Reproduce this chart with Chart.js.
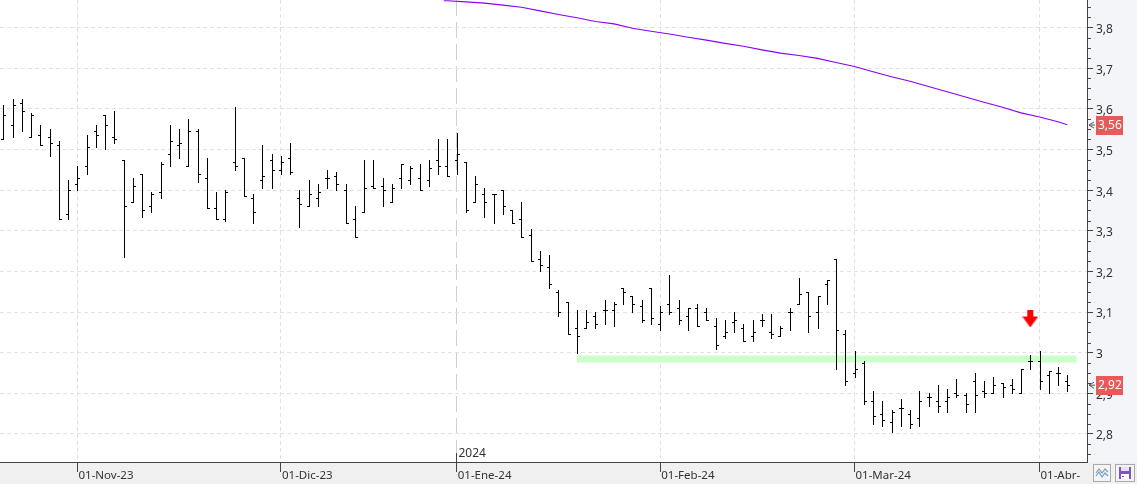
<!DOCTYPE html>
<html>
<head>
<meta charset="utf-8">
<title>Chart</title>
<script src="https://cdn.jsdelivr.net/npm/chart.js@4/dist/chart.umd.min.js"></script>
<style>
  html, body { margin: 0; padding: 0; background: #f0f0f0; overflow: hidden; }
  #wrap { position: relative; width: 1137px; height: 484px; }
  #myChart { position: absolute; left: 0; top: 0; }
  svg.btn { position: absolute; top: 464px; }
</style>
</head>
<body>
<div id="wrap">
  <canvas id="myChart" width="1137" height="484"></canvas>
  <svg class="btn" style="left:1093px" width="18" height="18" viewBox="0 0 18 18">
    <rect x="0.5" y="0.5" width="17" height="17" fill="#f4f4f4" stroke="#aaa"/>
    <polyline points="3,9 6,5 9,9 12,5 15,8" fill="none" stroke="#999" stroke-width="1.2"/>
    <polyline points="3,12 6,8 9,13 12,9 15,12" fill="none" stroke="#5aa5e0" stroke-width="1.2"/>
  </svg>
  <svg class="btn" style="left:1115px" width="20" height="18" viewBox="0 0 20 18">
    <rect x="0.5" y="0.5" width="19" height="17" fill="#f4f4f4" stroke="#aaa"/>
    <rect x="4" y="3" width="12" height="12" fill="#7d55c0"/>
    <rect x="6" y="3" width="8" height="4" fill="#e8e0f5"/>
    <rect x="6" y="10" width="8" height="5" fill="#ffffff"/>
    <rect x="7" y="12" width="2" height="1" fill="#7d55c0"/>
  </svg>
</div>
<script>
/****************** data ******************/
// bar 0 is 01-Nov-23, there are 8 bars before it
const firstBar = -8;
const opens = [
  3.525,3.56,3.615,3.53,3.535,3.53,3.51,3.34,
  3.415,3.46,3.545,3.585,3.53,3.475,3.37,3.44,3.36,3.395,
  3.49,3.51,3.46,3.545,3.43,3.355,3.33,3.47,3.48,3.38,
  3.425,3.475,3.45,3.48,3.38,3.36,3.38,3.43,3.435,3.4,
  3.33,3.345,3.41,3.41,3.37,3.43,3.425,3.43,3.425,3.475,
  3.46,3.475,3.47,3.37,3.39,3.39,3.4,3.35,3.33,3.29,
  3.23,3.21,3.15,3.125,3.06,3.06,3.09,3.105,3.105,3.16,
  3.14,3.115,3.16,3.07,3.12,3.11,3.09,3.11,3.1,3.065,
  3.04,3.075,3.06,3.04,3.08,3.05,3.04,3.1,3.12,3.15,
  3.1,3.17,3.23,3.045,2.95,2.975,2.88,2.85,2.83,2.865,
  2.85,2.84,2.89,2.88,2.88,2.9,2.895,2.93,2.905,2.9,
  2.925,2.92,2.9,2.98,2.98,2.945,2.95,2.93
];
const highs = [
  3.61,3.625,3.625,3.59,3.56,3.55,3.52,3.425,
  3.46,3.535,3.56,3.585,3.595,3.475,3.43,3.44,3.395,3.47,
  3.56,3.55,3.575,3.55,3.48,3.395,3.4,3.605,3.48,3.39,
  3.51,3.49,3.485,3.515,3.4,3.425,3.415,3.45,3.445,3.415,
  3.36,3.475,3.475,3.43,3.415,3.465,3.46,3.465,3.475,3.525,
  3.525,3.54,3.47,3.435,3.405,3.39,3.4,3.35,3.37,3.305,
  3.25,3.24,3.155,3.125,3.105,3.105,3.1,3.13,3.125,3.16,
  3.14,3.13,3.16,3.115,3.19,3.13,3.11,3.12,3.11,3.085,
  3.08,3.1,3.07,3.08,3.095,3.095,3.065,3.11,3.185,3.15,
  3.14,3.18,3.23,3.055,3.005,2.98,2.905,2.88,2.86,2.885,
  2.86,2.905,2.9,2.92,2.91,2.935,2.9,2.95,2.93,2.94,
  2.925,2.935,2.96,2.995,3.005,2.955,2.965,2.945
];
const lows = [
  3.525,3.53,3.545,3.53,3.51,3.485,3.33,3.33,
  3.4,3.44,3.505,3.5,3.515,3.235,3.37,3.335,3.345,3.38,
  3.46,3.48,3.46,3.42,3.355,3.33,3.325,3.45,3.385,3.32,
  3.405,3.405,3.44,3.44,3.31,3.36,3.36,3.405,3.4,3.32,
  3.285,3.345,3.405,3.36,3.37,3.405,3.415,3.4,3.41,3.44,
  3.435,3.44,3.345,3.37,3.335,3.32,3.34,3.32,3.285,3.225,
  3.2,3.16,3.09,3.045,3.0,3.06,3.06,3.07,3.065,3.12,
  3.1,3.075,3.07,3.055,3.095,3.07,3.055,3.065,3.08,3.01,
  3.035,3.05,3.03,3.03,3.065,3.035,3.04,3.055,3.12,3.05,
  3.06,3.12,2.96,2.92,2.94,2.875,2.825,2.82,2.805,2.82,
  2.815,2.82,2.87,2.855,2.855,2.89,2.855,2.855,2.89,2.9,
  2.89,2.9,2.9,2.96,2.91,2.9,2.92,2.905
];
const closes = [
  3.585,3.61,3.595,3.585,3.51,3.515,3.33,3.4,
  3.43,3.505,3.535,3.56,3.525,3.36,3.41,3.35,3.39,3.465,
  3.52,3.515,3.545,3.44,3.355,3.33,3.395,3.46,3.385,3.345,
  3.435,3.45,3.47,3.445,3.365,3.39,3.395,3.43,3.415,3.32,
  3.285,3.405,3.405,3.4,3.405,3.465,3.455,3.4,3.455,3.46,
  3.435,3.49,3.35,3.415,3.37,3.39,3.36,3.32,3.285,3.225,
  3.215,3.17,3.1,3.045,3.04,3.075,3.07,3.105,3.12,3.15,
  3.12,3.08,3.085,3.1,3.1,3.08,3.11,3.065,3.08,3.02,
  3.05,3.08,3.03,3.05,3.08,3.045,3.06,3.1,3.145,3.09,
  3.14,3.18,3.055,2.93,2.96,2.88,2.845,2.835,2.855,2.865,
  2.825,2.88,2.89,2.87,2.89,2.895,2.875,2.895,2.9,2.92,
  2.915,2.91,2.96,2.98,2.93,2.955,2.95,2.92
];

// purple moving average
const maIndex = [39.6,40,42,44,46,48,50,52,54,56,58,60,62,64,66,68,70,72,74,76,78,80,82,84,86,88,90,92,94,96,98,100,102,104,106,107];
const maValues = [3.866,3.866,3.863,3.86,3.855,3.85,3.841,3.832,3.824,3.815,3.809,3.798,3.791,3.784,3.776,3.769,3.761,3.754,3.745,3.737,3.731,3.724,3.714,3.704,3.691,3.679,3.668,3.655,3.642,3.629,3.616,3.604,3.59,3.58,3.568,3.561];

// green support band and the red signal arrow
const bandIndex = [54, 108];
const bandValues = [2.9845, 2.9845];
const signalIndex = [103];
const signalValues = [3.083];

// axes
const monthIndex = [0, 22, 41, 63, 84, 104];
const monthLabels = ['01-Nov-23', '01-Dic-23', '01-Ene-24', '01-Feb-24', '01-Mar-24', '01-Abr-'];
const yearIndex = 41;
const yearLabel = '2024';
const yTicks = [2.8, 2.9, 3, 3.1, 3.2, 3.3, 3.4, 3.5, 3.6, 3.7, 3.8];
const yLabels = ['2,8', '2,9', '3', '3,1', '3,2', '3,3', '3,4', '3,5', '3,6', '3,7', '3,8'];
const yMinor = [2.75,2.775,2.825,2.85,2.875,2.925,2.95,2.975,3.025,3.05,3.075,3.125,3.15,3.175,3.225,3.25,3.275,3.325,3.35,3.375,3.425,3.45,3.475,3.525,3.55,3.575,3.625,3.65,3.675,3.725,3.75,3.775,3.825,3.85];
const priceTags = [3.56, 2.92];
const priceTagLabels = ['3,56', '2,92'];

const fontName = "'Noto Sans', sans-serif";

/****************** little images for the point marks ******************/
function tickImage(left) {
  let c = document.createElement('canvas');
  c.width = 7;
  c.height = 1;
  let g = c.getContext('2d');
  g.fillStyle = '#000';
  g.fillRect(left ? 1 : 4, 0, 2, 1);
  return c;
}
function arrowImage() {
  let c = document.createElement('canvas');
  c.width = 16;
  c.height = 17;
  let g = c.getContext('2d');
  g.fillStyle = '#f00';
  g.fillRect(5, 0, 6, 7);
  g.beginPath();
  g.moveTo(0, 6);
  g.lineTo(16, 6);
  g.lineTo(8, 17);
  g.closePath();
  g.fill();
  return c;
}

const bars = highs.map((h, i) => ({ x: firstBar + i, y: [lows[i], h] }));
const openPts = opens.map((v, i) => ({ x: firstBar + i, y: v }));
const closePts = closes.map((v, i) => ({ x: firstBar + i, y: v }));
const maPts = maValues.map((v, i) => ({ x: maIndex[i], y: v }));
const bandPts = bandValues.map((v, i) => ({ x: bandIndex[i], y: v }));
const signalPts = signalValues.map((v, i) => ({ x: signalIndex[i], y: v }));

/****************** plugin: snap marks to pixels, draw the chrome ******************/
const chromePlugin = {
  id: 'chrome',
  beforeDraw(chart) {
    let { ctx, chartArea: a } = chart;
    ctx.save();
    ctx.fillStyle = '#f0f0f0';
    ctx.fillRect(0, a.bottom, 1137, 484 - a.bottom);
    ctx.fillStyle = '#f3f5f8';
    ctx.fillRect(a.right, 0, 1137 - a.right, a.bottom);
    ctx.fillStyle = '#fff';
    ctx.fillRect(0, 0, a.right, a.bottom);
    ctx.restore();
  },
  afterDatasetsUpdate(chart) {
    chart.data.datasets.forEach((ds, n) => {
      if (!ds.snap) return;
      chart.getDatasetMeta(n).data.forEach(el => {
        el.x = Math.ceil(el.x - 0.5) + 0.5;
        if (ds.type === 'bar') {
          el.y = Math.round(el.y);
          el.base = Math.round(el.base) + 1;
        } else {
          el.y = Math.round(el.y) + 0.5;
        }
      });
    });
  },
  afterDraw(chart) {
    let { ctx, chartArea: a, scales } = chart;
    ctx.save();
    // minor ticks on the price axis
    ctx.strokeStyle = '#444';
    ctx.lineWidth = 1;
    yMinor.forEach(v => {
      let y = Math.round(scales.y.getPixelForValue(v)) + 0.5;
      ctx.beginPath();
      ctx.moveTo(a.right, y);
      ctx.lineTo(a.right + 4, y);
      ctx.stroke();
    });
    // year mark
    let yx = Math.round(scales.x.getPixelForValue(yearIndex)) - 0.5;
    ctx.beginPath();
    ctx.moveTo(yx, a.bottom - 9);
    ctx.lineTo(yx, a.bottom);
    ctx.stroke();
    ctx.fillStyle = '#333';
    ctx.font = '12px ' + fontName;
    ctx.textAlign = 'left';
    ctx.textBaseline = 'middle';
    ctx.fillText(yearLabel, yx + 2, a.bottom - 8);
    // price tags
    priceTags.forEach((v, i) => {
      let y = scales.y.getPixelForValue(v);
      ctx.fillStyle = '#e85a5a';
      ctx.fillRect(1096, Math.round(y) - 9, 27, 19);
      ctx.fillStyle = '#fff';
      ctx.fillText(priceTagLabels[i], 1098, y + 0.5);
      ctx.strokeStyle = '#555';
      ctx.beginPath();
      ctx.moveTo(1094, y - 3);
      ctx.lineTo(1089, y);
      ctx.lineTo(1094, y + 3);
      ctx.moveTo(1089, y);
      ctx.lineTo(1095, y);
      ctx.stroke();
    });
    ctx.restore();
  }
};

/****************** chart ******************/
let ctx = document.getElementById('myChart').getContext('2d');
let myChart = new Chart(ctx, {
  type: 'bar',
  data: {
    datasets: [
      { type: 'line', label: 'band', data: bandPts, borderColor: '#ccffcc', borderWidth: 7, borderCapStyle: 'butt', pointRadius: 0, order: 5 },
      { type: 'bar', label: 'high-low', data: bars, backgroundColor: '#000', barThickness: 1, inflateAmount: 0, borderWidth: 0, grouped: false, snap: true, order: 3 },
      { type: 'scatter', label: 'open', data: openPts, pointStyle: tickImage(true), pointRadius: 3, snap: true, order: 2 },
      { type: 'scatter', label: 'close', data: closePts, pointStyle: tickImage(false), pointRadius: 3, snap: true, order: 2 },
      { type: 'line', label: 'media', data: maPts, borderColor: '#8a00ff', borderWidth: 1.1, pointRadius: 0, tension: 0, order: 1 },
      { type: 'scatter', label: 'signal', data: signalPts, pointStyle: arrowImage(), pointRadius: 8, order: 0 }
    ]
  },
  options: {
    responsive: false,
    animation: false,
    layout: { padding: 0, autoPadding: false },
    plugins: { legend: { display: false }, tooltip: { enabled: false } },
    scales: {
      x: {
        type: 'linear',
        offset: false,
        min: -8.378,
        max: 109.135,
        afterFit: s => { s.height = 22; s.paddingLeft = 0; s.paddingRight = 0; },
        afterBuildTicks: s => { s.ticks = monthIndex.map(v => ({ value: v })); },
        grid: {
          offset: false,
          color: c => (c.tick && c.tick.value === yearIndex ? '#cfcfcf' : '#e2e2e2'),
          tickColor: '#444',
          tickLength: 10
        },
        border: {
          color: '#444',
          dash: c => (c.tick && c.tick.value === yearIndex ? [16, 6] : [4, 3])
        },
        ticks: {
          autoSkip: false,
          maxRotation: 0,
          align: 'start',
          labelOffset: 1,
          padding: -3,
          color: '#333',
          font: { family: fontName, size: 11.5 },
          callback: (v) => monthLabels[monthIndex.indexOf(v)]
        }
      },
      y: {
        position: 'right',
        min: 2.7311,
        max: 3.8677,
        afterFit: s => { s.width = 50; s.paddingTop = 0; s.paddingBottom = 0; },
        afterBuildTicks: s => { s.ticks = yTicks.map(v => ({ value: v })); },
        grid: { color: '#e2e2e2', tickColor: '#444', tickLength: 6 },
        border: { color: '#444', dash: c => (c.tick ? [4, 3] : []) },
        ticks: {
          padding: 3,
          labelOffset: 2,
          color: '#333',
          font: { family: fontName, size: 12 },
          callback: (v) => yLabels[yTicks.indexOf(v)]
        }
      }
    }
  },
  plugins: [chromePlugin]
});
</script>
</body>
</html>
